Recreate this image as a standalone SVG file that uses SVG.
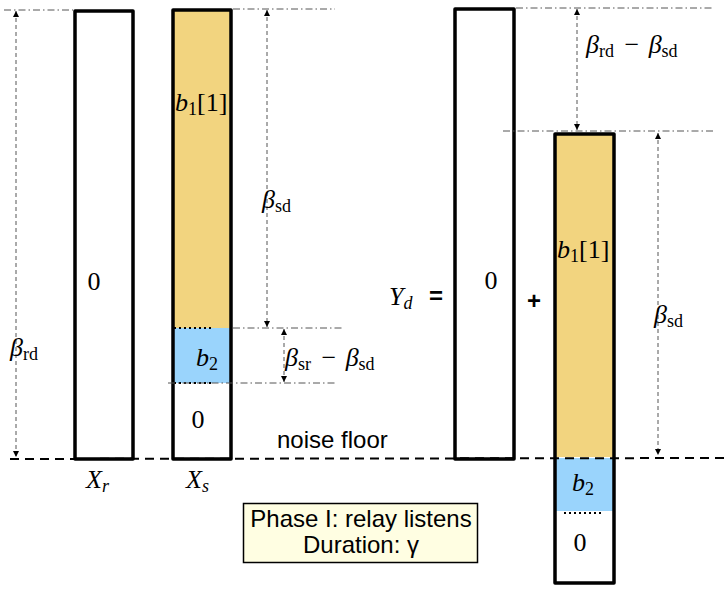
<svg xmlns="http://www.w3.org/2000/svg" width="727" height="589" viewBox="0 0 727 589">
<style>
.bar{fill:none;stroke:#000;stroke-width:3.5;stroke-linejoin:round}
.yel{fill:#F2D47F}
.blu{fill:#9AD4FC}
.dd{stroke:#555;stroke-width:1;stroke-dasharray:7,3,1.5,3;fill:none}
.dim{stroke:#555;stroke-width:1;stroke-dasharray:4,3;fill:none}
.dot{stroke:#000;stroke-width:2;stroke-dasharray:2,3;fill:none}
.nf{stroke:#000;stroke-width:2;stroke-dasharray:9,6;fill:none}
.m{font-family:"Liberation Serif","DejaVu Serif",serif;font-size:26px;fill:#000}
.i{font-style:italic}
.s{font-size:18px}
.t{font-family:"Liberation Sans",Arial,sans-serif;font-size:24px;fill:#000}
</style>
<defs>
<marker id="ah" viewBox="0 0 8 8" refX="8" refY="4" markerWidth="6" markerHeight="8" markerUnits="userSpaceOnUse" orient="auto-start-reverse">
<path d="M0,0 L8,4 L0,8 z" fill="#000"/>
</marker>
</defs>

<g id="Xr">
<rect class="bar" x="75" y="11" width="58" height="448" fill="#fff"/>
<text class="m" x="94" y="290" text-anchor="middle">0</text>
<text class="m" x="86" y="488"><tspan class="i">X</tspan><tspan class="s i" dy="4">r</tspan></text>
</g>

<g id="Xs">
<rect class="yel" x="173" y="10" width="58" height="318"/>
<rect class="blu" x="173" y="328" width="58" height="55"/>
<rect x="173" y="383" width="58" height="76" fill="#fff"/>
<line class="dot" x1="174" y1="328" x2="212" y2="328"/>
<line class="dot" x1="174" y1="383" x2="212" y2="383"/>
<rect class="bar" x="173" y="10" width="58" height="449"/>
<text class="m" x="175" y="111"><tspan class="i">b</tspan><tspan class="s" dy="4">1</tspan><tspan dy="-4">[1]</tspan></text>
<text class="m" x="196" y="366"><tspan class="i">b</tspan><tspan class="s" dy="4">2</tspan></text>
<text class="m" x="198" y="428" text-anchor="middle">0</text>
<text class="m" x="186" y="488"><tspan class="i">X</tspan><tspan class="s i" dy="4">s</tspan></text>
</g>

<g id="Yd">
<rect class="bar" x="455" y="9" width="59" height="450" fill="#fff"/>
<text class="m" x="491" y="289" text-anchor="middle">0</text>
<text class="m" x="389" y="305"><tspan class="i">Y</tspan><tspan class="s i" dy="4">d</tspan></text>
<text class="t" x="436" y="304" text-anchor="middle" font-weight="bold">=</text>
<text class="t" x="534" y="309" text-anchor="middle" font-weight="bold">+</text>
</g>

<g id="Yd2">
<rect class="yel" x="555" y="134" width="59" height="323"/>
<rect class="blu" x="555" y="458" width="59" height="53"/>
<rect x="555" y="511" width="59" height="72" fill="#fff"/>
<line class="dot" x1="564" y1="513" x2="602" y2="513"/>
<rect class="bar" x="555" y="134" width="59" height="449"/>
<text class="m" x="557" y="258"><tspan class="i">b</tspan><tspan class="s" dy="4">1</tspan><tspan dy="-4">[1]</tspan></text>
<text class="m" x="572" y="491"><tspan class="i">b</tspan><tspan class="s" dy="4">2</tspan></text>
<text class="m" x="580" y="551" text-anchor="middle">0</text>
</g>

<g id="phase">
<rect x="243.5" y="503.5" width="234" height="59" fill="#FFFEE2" stroke="#000" stroke-width="1.5"/>
<text class="t" x="361" y="527" text-anchor="middle">Phase I: relay listens</text>
<text class="t" x="361" y="553" text-anchor="middle">Duration: γ</text>
</g>

<g id="connectors">
<line class="nf" x1="10" y1="459" x2="727" y2="458"/>
<line class="dd" x1="4" y1="10" x2="73" y2="10"/>
<line class="dd" x1="233" y1="9" x2="335" y2="9"/>
<line class="dd" x1="233" y1="328" x2="344" y2="328"/>
<line class="dd" x1="168" y1="383" x2="335" y2="383"/>
<line class="dd" x1="516" y1="8" x2="714" y2="8"/>
<line class="dd" x1="503" y1="131" x2="714" y2="131"/>
<line class="dim" x1="16" y1="11" x2="16" y2="457" marker-start="url(#ah)" marker-end="url(#ah)"/>
<line class="dim" x1="267" y1="10" x2="267" y2="327" marker-start="url(#ah)" marker-end="url(#ah)"/>
<line class="dim" x1="284" y1="329" x2="284" y2="382" marker-start="url(#ah)" marker-end="url(#ah)"/>
<line class="dim" x1="577" y1="9" x2="577" y2="130" marker-start="url(#ah)" marker-end="url(#ah)"/>
<line class="dim" x1="658" y1="133" x2="658" y2="455" marker-start="url(#ah)" marker-end="url(#ah)"/>
<text class="m" x="10" y="356"><tspan class="i">β</tspan><tspan class="s" dy="4">rd</tspan></text>
<text class="m" x="262" y="208"><tspan class="i">β</tspan><tspan class="s" dy="4">sd</tspan></text>
<text class="m" x="285" y="366"><tspan class="i">β</tspan><tspan class="s" dy="4">sr</tspan><tspan dy="-4" dx="4"> − </tspan><tspan class="i" dx="3">β</tspan><tspan class="s" dy="4">sd</tspan></text>
<text class="m" x="586" y="53"><tspan class="i">β</tspan><tspan class="s" dy="4">rd</tspan><tspan dy="-4" dx="4"> − </tspan><tspan class="i" dx="3">β</tspan><tspan class="s" dy="4">sd</tspan></text>
<text class="m" x="654" y="323"><tspan class="i">β</tspan><tspan class="s" dy="4">sd</tspan></text>
<text class="t" x="277" y="448">noise floor</text>
</g>
</svg>
